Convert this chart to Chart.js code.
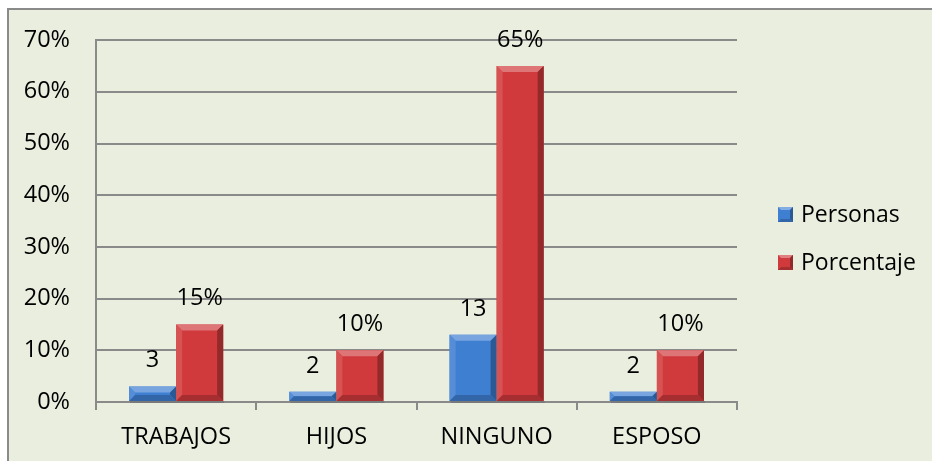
<!DOCTYPE html>
<html>
<head>
<meta charset="utf-8">
<script src="https://cdn.jsdelivr.net/npm/chart.js@4.4.1/dist/chart.umd.min.js"></script>
<style>
  html, body { margin: 0; padding: 0; background: #ffffff; }
  #frame {
    position: absolute; left: 7px; top: 8px; width: 940px; height: 470px;
    border-left: 2px solid #8a8a8a; border-top: 2px solid #8a8a8a;
    background: #eaeede; box-sizing: border-box;
  }
  #wrap { position: absolute; left: 0; top: 0; width: 932px; height: 461px; }
</style>
</head>
<body>
<div id="frame"></div>
<div id="wrap"><canvas id="c" width="932" height="461"></canvas></div>
<script>
// Categories and series
const categories = ['TRABAJOS', 'HIJOS', 'NINGUNO', 'ESPOSO'];
const personas = [3, 2, 13, 2];
const porcentaje = [15, 10, 65, 10];
const yTicks = [0, 10, 20, 30, 40, 50, 60, 70];

const FONT = '"Open Sans", "Noto Sans", sans-serif';
const BLUE = '#3e7fd2';
const RED = '#d03a3c';

function shade(hex, amt) {
  const n = parseInt(hex.slice(1), 16);
  let r = (n >> 16) & 255, g = (n >> 8) & 255, b = n & 255;
  const f = v => Math.max(0, Math.min(255, Math.round(amt >= 0 ? v + (255 - v) * amt : v * (1 + amt))));
  return 'rgb(' + f(r) + ',' + f(g) + ',' + f(b) + ')';
}

// Bevelled bars with a soft shadow, plus value labels above each bar
const bevelPlugin = {
  id: 'bevel',
  afterDatasetsDraw(chart) {
    const ctx = chart.ctx;
    chart.data.datasets.forEach((ds, di) => {
      const meta = chart.getDatasetMeta(di);
      meta.data.forEach((bar, i) => {
        const { x, y, base, width } = bar.getProps(['x', 'y', 'base', 'width'], true);
        const l = x - width / 2, r = x + width / 2, t = y, b = base;
        const h = b - t;
        const bv = Math.min(6, h / 2);
        const col = ds.baseColor;
        ctx.save();
        // shadow
        ctx.fillStyle = 'rgba(0,0,0,0.12)';
        ctx.fillRect(l + 1, b, width, 2);
        // top bevel
        ctx.fillStyle = shade(col, 0.3);
        ctx.beginPath();
        ctx.moveTo(l, t); ctx.lineTo(r, t); ctx.lineTo(r - bv, t + bv); ctx.lineTo(l + bv, t + bv); ctx.closePath(); ctx.fill();
        // left bevel
        ctx.fillStyle = shade(col, 0.12);
        ctx.beginPath();
        ctx.moveTo(l, t); ctx.lineTo(l + bv, t + bv); ctx.lineTo(l + bv, b - bv); ctx.lineTo(l, b); ctx.closePath(); ctx.fill();
        // right bevel
        ctx.fillStyle = shade(col, -0.3);
        ctx.beginPath();
        ctx.moveTo(r, t); ctx.lineTo(r - bv, t + bv); ctx.lineTo(r - bv, b - bv); ctx.lineTo(r, b); ctx.closePath(); ctx.fill();
        // bottom bevel
        ctx.fillStyle = shade(col, -0.2);
        ctx.beginPath();
        ctx.moveTo(l, b); ctx.lineTo(l + bv, b - bv); ctx.lineTo(r - bv, b - bv); ctx.lineTo(r, b); ctx.closePath(); ctx.fill();
        ctx.restore();

        // value label
        ctx.save();
        ctx.fillStyle = '#000';
        ctx.font = '23.5px ' + FONT;
        ctx.textAlign = 'center';
        ctx.textBaseline = 'alphabetic';
        const v = ds.data[i];
        ctx.fillText(ds.labelFmt(v), x, t - 19);
        ctx.restore();
      });
    });
  }
};

// Legend drawn to the right of the plot
const sideLegend = {
  id: 'sideLegend',
  afterDraw(chart) {
    const ctx = chart.ctx;
    const x0 = 778, ys = [215, 263];
    chart.data.datasets.forEach((ds, i) => {
      const cy = ys[i];
      const col = ds.baseColor;
      ctx.save();
      const s = 15, l = x0, t = cy - 8, bv = 3;
      ctx.fillStyle = col; ctx.fillRect(l, t, s, s);
      ctx.fillStyle = shade(col, 0.35);
      ctx.beginPath(); ctx.moveTo(l, t); ctx.lineTo(l + s, t); ctx.lineTo(l + s - bv, t + bv); ctx.lineTo(l + bv, t + bv); ctx.closePath(); ctx.fill();
      ctx.fillStyle = shade(col, -0.3);
      ctx.beginPath(); ctx.moveTo(l + s, t); ctx.lineTo(l + s, t + s); ctx.lineTo(l + s - bv, t + s - bv); ctx.lineTo(l + s - bv, t + bv); ctx.closePath(); ctx.fill();
      ctx.fillStyle = shade(col, -0.2);
      ctx.beginPath(); ctx.moveTo(l, t + s); ctx.lineTo(l + s, t + s); ctx.lineTo(l + s - bv, t + s - bv); ctx.lineTo(l + bv, t + s - bv); ctx.closePath(); ctx.fill();
      ctx.fillStyle = '#000';
      ctx.font = '23px ' + FONT;
      ctx.textAlign = 'left';
      ctx.textBaseline = 'middle';
      ctx.fillText(ds.label, 801, cy);
      ctx.restore();
    });
  }
};

new Chart(document.getElementById('c'), {
  type: 'bar',
  data: {
    labels: categories,
    datasets: [
      { label: 'Personas', data: personas, backgroundColor: BLUE, baseColor: BLUE,
        labelFmt: v => String(v), categoryPercentage: 0.5875, barPercentage: 1 },
      { label: 'Porcentaje', data: porcentaje, backgroundColor: RED, baseColor: RED,
        labelFmt: v => v + '%', categoryPercentage: 0.5875, barPercentage: 1 }
    ]
  },
  options: {
    responsive: false,
    animation: false,
    layout: { padding: { left: 0, right: 195, top: 38, bottom: 0 } },
    plugins: { legend: { display: false }, tooltip: { enabled: false } },
    scales: {
      x: {
        afterFit(scale) { scale.height = 59; },
        grid: { drawOnChartArea: false, drawTicks: true, tickLength: 8, offset: true, color: '#8a8a8a', lineWidth: 2 },
        border: { color: '#8a8a8a', width: 2 },
        ticks: { color: '#000', font: { family: FONT, size: 23.5 }, padding: 13 }
      },
      y: {
        min: 0, max: 70,
        afterFit(scale) { scale.width = 96; },
        afterBuildTicks(scale) { scale.ticks = yTicks.map(v => ({ value: v })); },
        grid: { drawTicks: false, color: '#8a8a8a', lineWidth: 2 },
        border: { color: '#8a8a8a', width: 2 },
        ticks: { color: '#000', font: { family: FONT, size: 23.5 }, padding: 26, callback: v => v + '%' }
      }
    }
  },
  plugins: [bevelPlugin, sideLegend]
});
</script>
</body>
</html>
